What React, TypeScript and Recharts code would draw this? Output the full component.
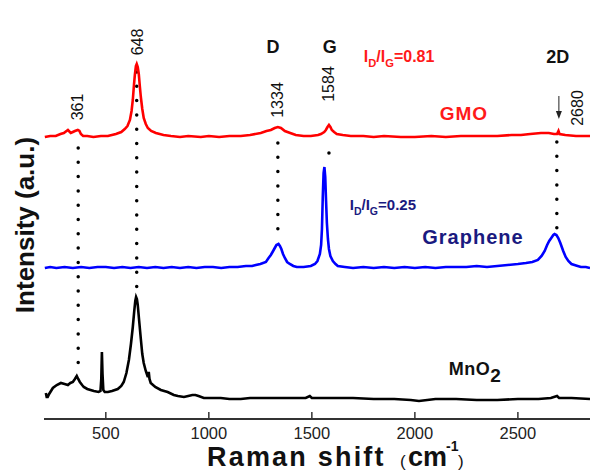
import React from 'react';
import { LineChart, Line, XAxis, YAxis, ReferenceLine, ReferenceDot } from 'recharts';

// Raman shift (cm-1) vs intensity (a.u., stacked offsets as drawn)
const gmo = [
  [204, 282], [230, 283], [257, 283], [280, 285], [296, 286], [316, 289], [330, 286], [340, 287], [350, 288], [364, 289],
  [372, 288], [379, 285], [390, 283], [410, 283], [440, 282], [476, 283], [510, 283], [549, 285], [575, 287], [592, 290],
  [605, 293], [617, 299], [625, 308], [631, 319], [637, 335], [641, 344], [646, 353], [650, 355], [655, 352], [660, 345],
  [665, 333], [670, 322], [677, 310], [684, 301], [694, 295], [704, 291], [720, 288], [743, 286], [780, 284], [816, 283],
  [860, 282], [900, 283], [961, 282], [1000, 283], [1050, 282], [1100, 283], [1155, 283], [1200, 284], [1252, 286], [1280, 288],
  [1301, 289], [1320, 291], [1335, 292], [1350, 291], [1369, 288], [1395, 286], [1422, 284], [1460, 283], [1495, 283], [1530, 284],
  [1544, 285], [1560, 287], [1568, 289], [1576, 292], [1583, 294], [1590, 292], [1597, 289], [1608, 287], [1621, 285], [1650, 284],
  [1689, 283], [1750, 283], [1800, 282], [1850, 283], [1932, 282], [2000, 282], [2080, 283], [2150, 282], [2223, 283], [2300, 283],
  [2400, 283], [2470, 284], [2515, 284], [2560, 285], [2612, 286], [2650, 286], [2675, 285], [2690, 285], [2697, 288], [2702, 285],
  [2730, 284], [2782, 283], [2850, 283],
].map(([x, y]) => ({ x, y }));

const graphene = [
  [204, 151], [230, 152], [260, 151], [300, 152], [340, 151], [380, 152], [420, 151], [460, 152], [500, 152], [540, 151],
  [580, 152], [620, 151], [660, 152], [700, 151], [740, 152], [780, 151], [820, 152], [860, 151], [900, 152], [940, 151],
  [980, 152], [1020, 152], [1060, 151], [1100, 152], [1140, 152], [1180, 153], [1210, 153], [1228, 154], [1250, 155], [1277, 157],
  [1290, 161], [1301, 164], [1312, 168], [1320, 171], [1328, 174], [1338, 175], [1345, 173], [1352, 170], [1360, 165], [1369, 161],
  [1380, 157], [1393, 155], [1410, 153], [1427, 152], [1460, 152], [1495, 153], [1515, 155], [1527, 158], [1539, 165], [1545, 174],
  [1549, 190], [1553, 222], [1557, 246], [1561, 252], [1565, 242], [1569, 218], [1573, 196], [1578, 180], [1583, 170], [1590, 163],
  [1602, 158], [1615, 155], [1626, 153], [1660, 152], [1700, 151], [1750, 152], [1800, 151], [1850, 152], [1900, 151], [1950, 152],
  [2000, 151], [2050, 152], [2100, 151], [2150, 152], [2200, 152], [2250, 152], [2300, 153], [2350, 152], [2400, 153], [2450, 154],
  [2500, 155], [2539, 156], [2570, 157], [2597, 159], [2615, 163], [2630, 168], [2642, 174], [2652, 178], [2662, 181], [2672, 184],
  [2678, 185], [2687, 184], [2696, 181], [2706, 176], [2720, 168], [2732, 162], [2745, 158], [2760, 155], [2790, 153], [2806, 152],
  [2830, 152], [2850, 151],
].map(([x, y]) => ({ x, y }));

const mno2 = [
  [209, 26], [213, 22], [218, 22], [225, 25], [243, 31], [262, 34], [282, 36], [300, 35], [316, 34], [328, 36],
  [340, 37], [350, 40], [359, 43], [366, 40], [374, 37], [385, 34], [393, 32], [410, 30], [442, 28], [465, 27],
  [474, 28], [478, 40], [481, 67], [484, 45], [488, 29], [495, 27], [510, 27], [530, 28], [558, 30], [575, 33],
  [587, 37], [600, 46], [612, 59], [622, 75], [631, 92], [638, 108], [643, 118], [647, 122], [651, 120], [655, 114],
  [662, 98], [670, 80], [677, 65], [684, 56], [694, 48], [704, 42], [707, 46], [709, 46], [712, 40], [718, 36],
  [740, 32], [767, 29], [800, 27], [830, 24], [850, 23], [879, 22], [900, 23], [920, 24], [935, 24], [950, 23],
  [976, 21], [1000, 21], [1058, 21], [1100, 20], [1155, 20], [1200, 21], [1300, 21], [1400, 21], [1470, 21], [1490, 23],
  [1500, 21], [1600, 21], [1700, 21], [1800, 20], [1900, 20], [1980, 19], [2020, 18], [2060, 19], [2100, 20], [2200, 20],
  [2300, 19], [2400, 19], [2500, 20], [2600, 20], [2660, 21], [2690, 23], [2700, 21], [2760, 21], [2850, 20],
].map(([x, y]) => ({ x, y }));

const xTicks = [500, 1000, 1500, 2000, 2500];

// peak position labels (rotated)
const peakLabels = [
  { x: 361, y: 312, text: '361' },
  { x: 655, y: 377, text: '648' },
  { x: 1335, y: 319, text: '1334' },
  { x: 1583, y: 335, text: '1584' },
  { x: 2791, y: 311, text: '2680' },
];

// dotted guide lines: [ramanShift, yFrom, yTo]
const guides = [
  [366, 271, 52],
  [650, 347, 129],
  [1335, 276, 187],
  [1583, 266, 264],
  [2689, 277, 178],
];

const FONT = '"Liberation Sans", Arial, sans-serif';
const FRAME = '#333';

const Tick = (props: any) => {
  const { x, y, payload } = props;
  return (
    <g>
      <line x1={x} x2={x} y1={y} y2={y - 7} stroke={FRAME} strokeWidth={1.5} />
      <text x={x} y={y + 20} textAnchor="middle" fontFamily={FONT} fontSize={16.5} fill="#222">
        {payload.value}
      </text>
    </g>
  );
};

const rotated = (text: string) => (p: any) => (
  <text
    x={p.cx}
    y={p.cy}
    transform={`rotate(-90 ${p.cx} ${p.cy})`}
    textAnchor="middle"
    dominantBaseline="central"
    fontFamily={FONT}
    fontSize={16}
    fill="#111"
  >
    {text}
  </text>
);

const boldText = (text: string, size: number, color: string, anchor: string = 'middle', spacing = 0) => (p: any) => (
  <text
    x={p.cx}
    y={p.cy}
    textAnchor={anchor}
    dominantBaseline="central"
    fontFamily={FONT}
    fontWeight="bold"
    fontSize={size}
    fill={color}
    letterSpacing={spacing}
  >
    {text}
  </text>
);

const ratioText = (value: string, size: number, color: string) => (p: any) => (
  <text x={p.cx} y={p.cy} fontFamily={FONT} fontWeight="bold" fontSize={size} fill={color}>
    <tspan>I</tspan>
    <tspan fontSize={size * 0.7} dy={5}>D</tspan>
    <tspan dy={-5}>/I</tspan>
    <tspan fontSize={size * 0.7} dy={5}>G</tspan>
    <tspan dy={-5}>{value}</tspan>
  </text>
);

const mnoText = (p: any) => (
  <text x={p.cx} y={p.cy} dominantBaseline="central" fontFamily={FONT} fontWeight="bold" fontSize={18} fill="#111" letterSpacing={0.5}>
    <tspan>MnO</tspan>
    <tspan dy={6} fontSize={19}>2</tspan>
  </text>
);

const arrowShape = (p: any) => (
  <g>
    <line x1={p.cx} y1={p.cy} x2={p.cx} y2={p.cy + 18} stroke="#222" strokeWidth={1} />
    <path d={`M${p.cx - 3},${p.cy + 15} L${p.cx + 3},${p.cy + 15} L${p.cx},${p.cy + 23} Z`} fill="#222" />
  </g>
);

export default function App() {
  return (
    <div style={{ position: 'absolute', left: 0, top: 0, width: 590, height: 476, background: '#fff' }}>
      <LineChart width={590} height={476} margin={{ top: 13, right: 0, bottom: 27, left: 44 }}>
        <XAxis
          dataKey="x"
          type="number"
          domain={[200, 2850]}
          allowDataOverflow
          ticks={xTicks}
          tick={<Tick />}
          tickSize={0}
          tickMargin={0}
          tickLine={false}
          height={30}
          axisLine={{ stroke: FRAME, strokeWidth: 2 }}
        />
        <XAxis
          xAxisId="top"
          orientation="top"
          type="number"
          domain={[200, 2850]}
          tick={false}
          tickLine={false}
          height={0}
          axisLine={{ stroke: FRAME, strokeWidth: 2 }}
        />
        <YAxis
          type="number"
          domain={[0, 406]}
          allowDataOverflow
          tick={false}
          tickLine={false}
          width={0}
          axisLine={{ stroke: FRAME, strokeWidth: 2 }}
        />
        {guides.map(([x, y1, y2], i) => (
          <ReferenceLine
            key={'g' + i}
            segment={[{ x, y: y1 }, { x, y: y2 }]}
            stroke="#000"
            strokeWidth={3.5}
            strokeDasharray="0 14.3"
            strokeLinecap="round"
            ifOverflow="visible"
          />
        ))}
        <Line data={mno2} dataKey="y" stroke="#000" strokeWidth={2.6} dot={false} isAnimationActive={false} />
        <Line data={graphene} dataKey="y" stroke="#0000ff" strokeWidth={2.6} dot={false} isAnimationActive={false} />
        <Line data={gmo} dataKey="y" stroke="#ff0000" strokeWidth={2.6} dot={false} isAnimationActive={false} />
        {peakLabels.map((p, i) => (
          <ReferenceDot key={'p' + i} x={p.x} y={p.y} r={0} ifOverflow="visible" shape={rotated(p.text)} />
        ))}
        <ReferenceDot x={1311} y={372} r={0} ifOverflow="visible" shape={boldText('D', 18, '#111')} />
        <ReferenceDot x={1587} y={372} r={0} ifOverflow="visible" shape={boldText('G', 18, '#111')} />
        <ReferenceDot x={2694} y={362} r={0} ifOverflow="visible" shape={boldText('2D', 18, '#111')} />
        <ReferenceDot x={1752} y={357} r={0} ifOverflow="visible" shape={ratioText('=0.81', 16, '#ff1a1a')} />
        <ReferenceDot x={2238} y={306} r={0} ifOverflow="visible" shape={boldText('GMO', 19, '#ff1a1a', 'middle', 1)} />
        <ReferenceDot x={1684} y={209} r={0} ifOverflow="visible" shape={ratioText('=0.25', 15, '#1a1a80')} />
        <ReferenceDot x={2282} y={182} r={0} ifOverflow="visible" shape={boldText('Graphene', 20, '#1a1a80', 'middle', 1)} />
        <ReferenceDot x={2165} y={50} r={0} ifOverflow="visible" shape={mnoText} />
        <ReferenceDot x={2699} y={323} r={0} ifOverflow="visible" shape={arrowShape} />
      </LineChart>
      <svg width={590} height={476} style={{ position: 'absolute', left: 0, top: 0, pointerEvents: 'none' }}>
        <text
          x={25}
          y={225}
          transform="rotate(-90 25 225)"
          textAnchor="middle"
          dominantBaseline="central"
          fontFamily={FONT}
          fontWeight="bold"
          fontSize={26}
          fill="#111"
        >
          Intensity (a.u.)
        </text>
        <text x={207} y={466} fontFamily={FONT} fontWeight="bold" fontSize={27} fill="#111" letterSpacing={2.2}>
          Raman shift
        </text>
        <text x={400} y={467} fontFamily={FONT} fontSize={17} fill="#111">(</text>
        <text x={408} y={466} fontFamily={FONT} fontWeight="bold" fontSize={27} fill="#111">cm</text>
        <text x={446} y={451} fontFamily={FONT} fontWeight="bold" fontSize={14} fill="#111">-1</text>
        <text x={458} y={467} fontFamily={FONT} fontSize={17} fill="#111">)</text>
      </svg>
    </div>
  );
}
